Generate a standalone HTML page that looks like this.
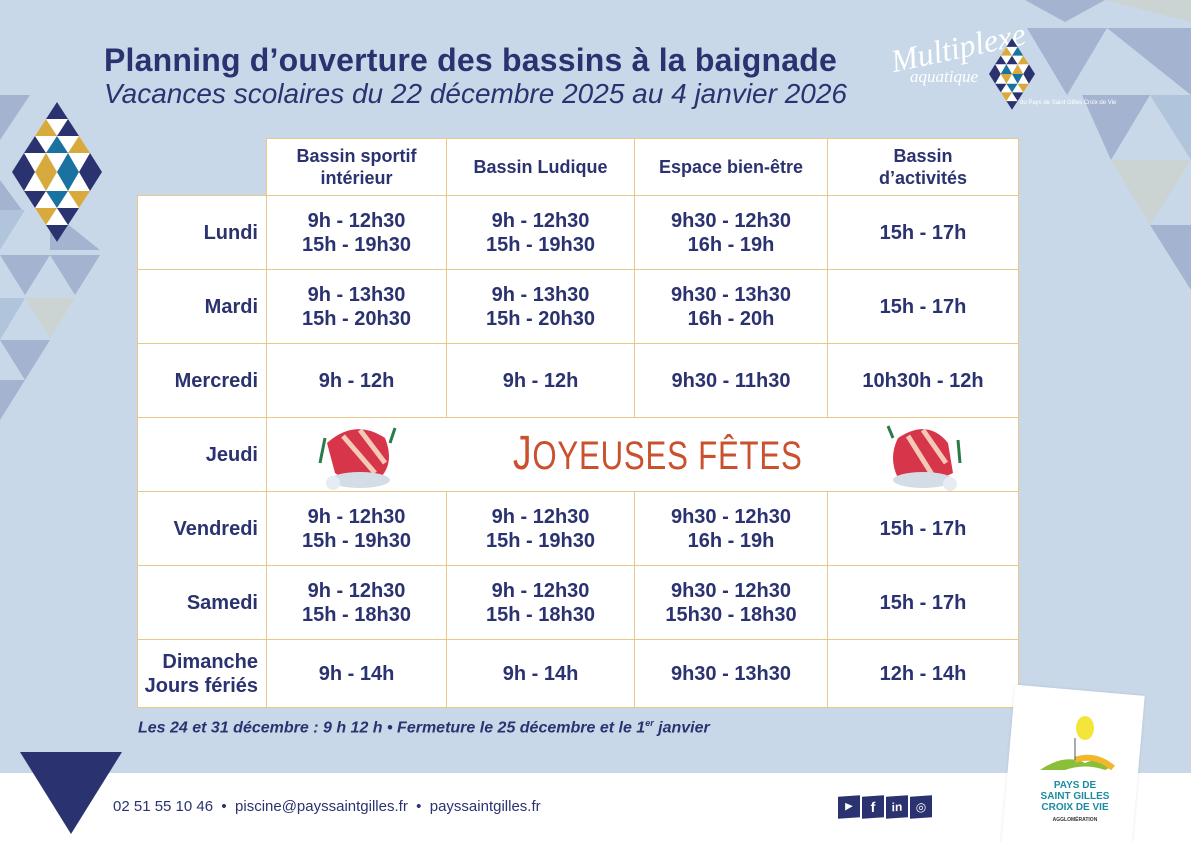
<!DOCTYPE html>
<html><head><meta charset="utf-8">
<style>
*{margin:0;padding:0;box-sizing:border-box}
html{width:1191px;height:842px;overflow:hidden}
body{width:1191px;height:842px;overflow:hidden;background:#c8d8e8;font-family:"Liberation Sans",sans-serif;color:#2b3270;position:relative}
.abs{position:absolute}
.c{position:absolute;background:#fff;border:1.5px solid #e8c98a;display:flex;align-items:center;justify-content:center;text-align:center;font-weight:bold;font-size:20px;line-height:24px;color:#2b3270}
.h{font-size:18px;line-height:22px}
.d{justify-content:flex-end;padding-right:8px;text-align:right}
</style></head>
<body>
<svg class="abs" style="left:0;top:0" width="1191" height="842">
 <g fill="#a3b3d0">
  <polygon points="1025,0 1105,0 1065,22"/>
  <polygon points="1027,28 1107,28 1067,95"/>
  <polygon points="1107,28 1191,28 1191,95"/>
  <polygon points="1082,95 1150,95 1111,160"/>
  <polygon points="1150,225 1191,225 1191,290"/>
  <polygon points="0,95 30,95 0,140"/>
  <polygon points="0,180 22,210 0,240"/>
  <polygon points="50,210 100,250 50,250"/>
  <polygon points="0,255 50,255 25,295"/>
  <polygon points="50,255 100,255 75,295"/>
  <polygon points="0,340 50,340 25,380"/>
  <polygon points="0,380 25,380 0,420"/>
 </g>
 <g fill="#ccd3d3">
  <polygon points="1105,0 1191,0 1191,22"/>
  <polygon points="1111,160 1191,160 1150,225"/>
  <polygon points="25,298 75,298 50,338"/>
 </g>
 <g fill="#b0c4dc">
  <polygon points="1150,95 1191,95 1191,160"/>
  <polygon points="0,210 25,210 0,250"/>
  <polygon points="0,298 25,298 0,340"/>
 </g>
</svg>
<svg class="abs" style="left:12px;top:102px" width="90" height="140" viewBox="0 0 90 140">
 <polygon points="45,0 90,70 45,140 0,70" fill="#fff"/>
 <g>
  <polygon points="45,0 56,17 34,17" fill="#2b3270"/>
  <polygon points="34,17 45,34 23,34" fill="#d8aa3e"/>
  <polygon points="56,17 67,34 45,34" fill="#2b3270"/>
  <polygon points="23,34 34,51 12,51" fill="#2b3270"/>
  <polygon points="45,34 56,51 34,51" fill="#1a72a0"/>
  <polygon points="67,34 78,51 56,51" fill="#d8aa3e"/>
  <polygon points="12,51 23,70 0,70" fill="#2b3270"/>
  <polygon points="34,51 45,70 23,70" fill="#d8aa3e"/>
  <polygon points="56,51 67,70 45,70" fill="#1a72a0"/>
  <polygon points="78,51 90,70 67,70" fill="#2b3270"/>
  <polygon points="0,70 23,70 12,89" fill="#2b3270"/>
  <polygon points="23,70 45,70 34,89" fill="#d8aa3e"/>
  <polygon points="45,70 67,70 56,89" fill="#1a72a0"/>
  <polygon points="12,89 34,89 23,106" fill="#2b3270"/>
  <polygon points="34,89 56,89 45,106" fill="#1a72a0"/>
  <polygon points="67,70 90,70 78,89" fill="#2b3270"/>
  <polygon points="56,89 78,89 67,106" fill="#d8aa3e"/>
  <polygon points="23,106 45,106 34,123" fill="#d8aa3e"/>
  <polygon points="45,106 67,106 56,123" fill="#2b3270"/>
  <polygon points="34,123 56,123 45,140" fill="#2b3270"/>
 </g>
</svg>
<div class="abs" style="left:104px;top:42px;font-size:32px;font-weight:bold;white-space:nowrap;letter-spacing:0.2px">Planning d’ouverture des bassins à la baignade</div>
<div class="abs" style="left:104px;top:78px;font-size:28px;font-style:italic;white-space:nowrap">Vacances scolaires du 22 décembre 2025 au 4 janvier 2026</div>
<div class="abs" style="left:890px;top:30px;width:130px;color:#fff;font-family:'Liberation Serif',serif;font-style:italic">
 <div style="font-size:32px;transform:rotate(-12deg)">Multiplexe</div>
 <div style="font-size:17px;margin-left:20px">aquatique</div>
</div>
<svg class="abs" style="left:989px;top:38px" width="46" height="72" viewBox="0 0 90 140">
 <polygon points="45,0 90,70 45,140 0,70" fill="#fff"/>
 <polygon points="45,0 56,17 34,17" fill="#2b3270"/>
 <polygon points="34,17 45,34 23,34" fill="#d8aa3e"/>
 <polygon points="56,17 67,34 45,34" fill="#1a72a0"/>
 <polygon points="23,34 34,51 12,51" fill="#2b3270"/>
 <polygon points="45,34 56,51 34,51" fill="#2b3270"/>
 <polygon points="67,34 78,51 56,51" fill="#d8aa3e"/>
 <polygon points="12,51 23,70 0,70" fill="#2b3270"/>
 <polygon points="34,51 45,70 23,70" fill="#1a72a0"/>
 <polygon points="56,51 67,70 45,70" fill="#d8aa3e"/>
 <polygon points="78,51 90,70 67,70" fill="#2b3270"/>
 <polygon points="0,70 23,70 12,89" fill="#2b3270"/>
 <polygon points="23,70 45,70 34,89" fill="#d8aa3e"/>
 <polygon points="45,70 67,70 56,89" fill="#1a72a0"/>
 <polygon points="67,70 90,70 78,89" fill="#2b3270"/>
 <polygon points="12,89 34,89 23,106" fill="#2b3270"/>
 <polygon points="34,89 56,89 45,106" fill="#1a72a0"/>
 <polygon points="56,89 78,89 67,106" fill="#d8aa3e"/>
 <polygon points="23,106 45,106 34,123" fill="#d8aa3e"/>
 <polygon points="45,106 67,106 56,123" fill="#2b3270"/>
 <polygon points="34,123 56,123 45,140" fill="#2b3270"/>
</svg>
<div class="abs" style="left:1020px;top:100px;font-size:6px;color:#fff">du Pays de Saint Gilles Croix de Vie</div>

<div>
<div class="c h" style="left:266px;top:138px;width:181px;height:58px">Bassin sportif<br>intérieur</div>
<div class="c h" style="left:446px;top:138px;width:189px;height:58px">Bassin Ludique</div>
<div class="c h" style="left:634px;top:138px;width:194px;height:58px">Espace bien-être</div>
<div class="c h" style="left:827px;top:138px;width:192px;height:58px">Bassin<br>d’activités</div>

<div class="c d" style="left:137px;top:195px;width:130px;height:75px">Lundi</div>
<div class="c" style="left:266px;top:195px;width:181px;height:75px">9h - 12h30<br>15h - 19h30</div>
<div class="c" style="left:446px;top:195px;width:189px;height:75px">9h - 12h30<br>15h - 19h30</div>
<div class="c" style="left:634px;top:195px;width:194px;height:75px">9h30 - 12h30<br>16h - 19h</div>
<div class="c" style="left:827px;top:195px;width:192px;height:75px">15h - 17h</div>

<div class="c d" style="left:137px;top:269px;width:130px;height:75px">Mardi</div>
<div class="c" style="left:266px;top:269px;width:181px;height:75px">9h - 13h30<br>15h - 20h30</div>
<div class="c" style="left:446px;top:269px;width:189px;height:75px">9h - 13h30<br>15h - 20h30</div>
<div class="c" style="left:634px;top:269px;width:194px;height:75px">9h30 - 13h30<br>16h - 20h</div>
<div class="c" style="left:827px;top:269px;width:192px;height:75px">15h - 17h</div>

<div class="c d" style="left:137px;top:343px;width:130px;height:75px">Mercredi</div>
<div class="c" style="left:266px;top:343px;width:181px;height:75px">9h - 12h</div>
<div class="c" style="left:446px;top:343px;width:189px;height:75px">9h - 12h</div>
<div class="c" style="left:634px;top:343px;width:194px;height:75px">9h30 - 11h30</div>
<div class="c" style="left:827px;top:343px;width:192px;height:75px">10h30h - 12h</div>

<div class="c d" style="left:137px;top:417px;width:130px;height:75px">Jeudi</div>
<div class="c" style="left:266px;top:417px;width:753px;height:75px;font-weight:normal;color:#c9512e"><span style="display:inline-block;transform:scaleX(0.78);font-size:48px;letter-spacing:1px;margin-left:30px">J<span style="font-size:40px">OYEUSES FÊTES</span></span></div>

<div class="c d" style="left:137px;top:491px;width:130px;height:75px">Vendredi</div>
<div class="c" style="left:266px;top:491px;width:181px;height:75px">9h - 12h30<br>15h - 19h30</div>
<div class="c" style="left:446px;top:491px;width:189px;height:75px">9h - 12h30<br>15h - 19h30</div>
<div class="c" style="left:634px;top:491px;width:194px;height:75px">9h30 - 12h30<br>16h - 19h</div>
<div class="c" style="left:827px;top:491px;width:192px;height:75px">15h - 17h</div>

<div class="c d" style="left:137px;top:565px;width:130px;height:75px">Samedi</div>
<div class="c" style="left:266px;top:565px;width:181px;height:75px">9h - 12h30<br>15h - 18h30</div>
<div class="c" style="left:446px;top:565px;width:189px;height:75px">9h - 12h30<br>15h - 18h30</div>
<div class="c" style="left:634px;top:565px;width:194px;height:75px">9h30 - 12h30<br>15h30 - 18h30</div>
<div class="c" style="left:827px;top:565px;width:192px;height:75px">15h - 17h</div>

<div class="c d" style="left:137px;top:639px;width:130px;height:69px">Dimanche<br>Jours fériés</div>
<div class="c" style="left:266px;top:639px;width:181px;height:69px">9h - 14h</div>
<div class="c" style="left:446px;top:639px;width:189px;height:69px">9h - 14h</div>
<div class="c" style="left:634px;top:639px;width:194px;height:69px">9h30 - 13h30</div>
<div class="c" style="left:827px;top:639px;width:192px;height:69px">12h - 14h</div>
</div>

<svg class="abs" style="left:315px;top:418px" width="90" height="75">
 <path d="M12,25 Q40,0 70,20 Q80,45 65,60 Q40,70 20,55 Z" fill="#d7364a"/>
 <path d="M28,18 L60,55 M45,12 L70,45" stroke="#f3c9b8" stroke-width="5"/>
 <path d="M5,45 L10,20 M75,25 L80,10" stroke="#2a7a4a" stroke-width="3"/>
 <ellipse cx="45" cy="62" rx="30" ry="8" fill="#d4dde6"/>
 <circle cx="18" cy="65" r="7" fill="#e6ecf2"/>
</svg>
<svg class="abs" style="left:878px;top:418px" width="90" height="75">
 <path d="M20,20 Q50,0 70,25 L75,55 Q45,70 20,60 Q10,40 20,20 Z" fill="#d7364a"/>
 <path d="M30,18 L55,58 M45,12 L68,45" stroke="#f3c9b8" stroke-width="5"/>
 <path d="M82,45 L80,22 M15,20 L10,8" stroke="#2a7a4a" stroke-width="3"/>
 <ellipse cx="45" cy="62" rx="30" ry="8" fill="#d4dde6"/>
 <circle cx="72" cy="66" r="7" fill="#e6ecf2"/>
</svg>

<div class="abs" style="left:138px;top:718px;font-size:16px;font-weight:bold;font-style:italic;white-space:nowrap">Les 24 et 31 décembre : 9 h 12 h • Fermeture le 25 décembre et le 1<sup style="font-size:9px">er</sup> janvier</div>

<div class="abs" style="left:0;top:773px;width:1191px;height:69px;background:#fff"></div>
<svg class="abs" style="left:20px;top:752px" width="102" height="82"><polygon points="0,0 102,0 51,82" fill="#2b3270"/></svg>
<div class="abs" style="left:113px;top:798px;font-size:15px;white-space:nowrap">02 51 55 10 46 &nbsp;•&nbsp; piscine@payssaintgilles.fr &nbsp;•&nbsp; payssaintgilles.fr</div>
<div class="abs" style="left:838px;top:796px;display:flex;gap:2px">
 <div style="width:22px;height:22px;background:#2b3270;color:#fff;font-size:10px;text-align:center;line-height:22px;transform:skewY(-4deg)">▶</div>
 <div style="width:22px;height:22px;background:#2b3270;color:#fff;font-size:14px;font-weight:bold;text-align:center;line-height:22px;transform:skewY(-4deg)">f</div>
 <div style="width:22px;height:22px;background:#2b3270;color:#fff;font-size:12px;font-weight:bold;text-align:center;line-height:22px;transform:skewY(-4deg)">in</div>
 <div style="width:22px;height:22px;background:#2b3270;color:#fff;font-size:12px;text-align:center;line-height:22px;transform:skewY(-4deg)">◎</div>
</div>
<div class="abs" style="left:1008px;top:690px;width:130px;height:160px;background:#fff;transform:rotate(5deg);box-shadow:0 0 3px rgba(0,0,0,.1)"></div>
<svg class="abs" style="left:1035px;top:708px" width="80" height="70">
 <ellipse cx="50" cy="20" rx="9" ry="12" fill="#f4e53a"/>
 <path d="M5,62 Q30,45 50,55 Q65,48 78,58 L70,62 Q50,55 30,62 Z" fill="#8bbf3a"/>
 <path d="M40,52 Q60,45 78,60" stroke="#f2b62b" stroke-width="6" fill="none"/>
 <line x1="40" y1="30" x2="40" y2="52" stroke="#555" stroke-width="1"/>
</svg>
<div class="abs" style="left:1030px;top:780px;width:90px;text-align:center;color:#1b8ca0;font-size:10px;font-weight:bold;line-height:11px">PAYS DE<br>SAINT GILLES<br>CROIX DE VIE<br><span style="color:#333;font-size:5px">AGGLOMÉRATION</span></div>
</body></html>
